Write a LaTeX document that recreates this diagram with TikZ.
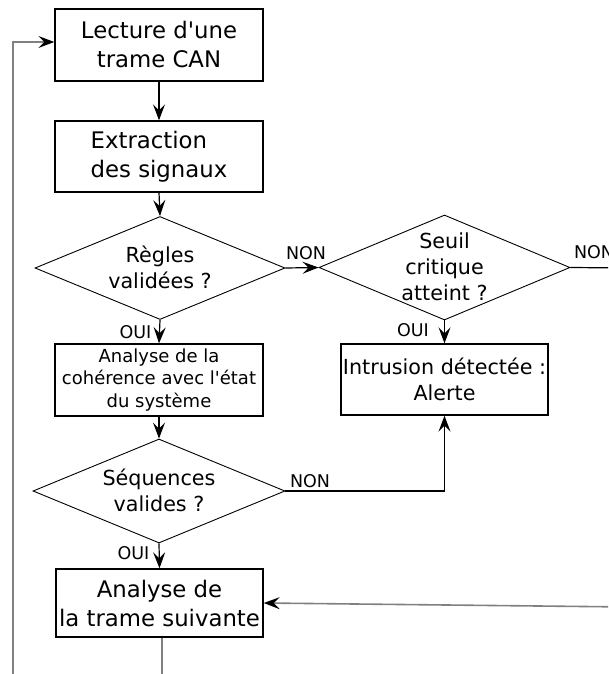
\documentclass[tikz,border=0pt]{standalone}
\usepackage{fontspec}
\setmainfont{DejaVu Sans}[Ligatures=TeXOff]
\usetikzlibrary{shapes.geometric,arrows.meta}
\begin{document}
\begin{tikzpicture}[x=1pt,y=-1pt,
  box/.style={draw, line width=1.4pt, minimum width=208pt, inner sep=0pt, align=center},
  dia/.style={draw, diamond, line width=0.9pt, inner sep=0pt},
  txt/.style={inner sep=0pt, align=center},
  arrowtip/.style={-{Stealth[length=16pt,width=12pt,inset=6pt,color=black]}},
  conn/.style={line width=1.2pt, arrowtip},
  loopline/.style={draw=black!50, line width=1.6pt},
  lab/.style={inner sep=0pt, font=\fontsize{17.5}{19}\selectfont},
  f23/.style={font=\fontsize{22.8}{29}\selectfont},
  f21/.style={font=\fontsize{20.7}{26}\selectfont},
  f18/.style={font=\fontsize{18}{22.5}\selectfont}
]
\useasboundingbox (0,0) rectangle (608,674);
\clip (0,0) rectangle (608,674);

% boxes
\node[box, f23, minimum height=72pt] (b1) at (159,45) {Lecture d'une\\trame CAN};
\node[box, f23, minimum height=71pt, align=left] (b2) at (159,156.5) {Extraction\\des signaux};
\node[box, f18, minimum height=72pt] (b3) at (159,380) {Analyse de la\\cohérence avec l'état\\du système};
\node[box, f21, minimum width=207pt, minimum height=71pt] (b4) at (444.5,379.5) {Intrusion détectée :\\Alerte};
\node[box, f23, minimum width=207pt, minimum height=68pt] (b5) at (159.5,603) {Analyse de\\la trame suivante};

% diamonds
\node[dia, minimum width=250pt, minimum height=103pt] (d1) at (160,268) {};
\node[txt, f21] (d1t) at (160,267) {Règles\\validées ?};
\node[dia, minimum width=251pt, minimum height=105pt] (d2) at (444.5,267.5) {};
\node[txt, f21] (d2t) at (444.5,267) {Seuil\\critique\\atteint ?};
\node[dia, minimum width=252pt, minimum height=104pt] (d3) at (159,491) {};
\node[txt, f21] (d3t) at (159,490) {Séquences\\valides ?};

\coordinate (rout) at (630,268);
\coordinate (rin) at (630,607);
\coordinate (corner) at (444.5,491);
\coordinate (bl) at (13,700);
\coordinate (tl) at (13,42);
\coordinate (bb) at (162,700);

% connectors
\draw[conn] (b1.south) -- (b2.north);
\draw[conn] (b2.south) -- (d1.north);
\draw[conn] (d1.east) node[lab, anchor=south west, yshift=8pt] {NON} -- (d2.west);
\draw[conn] (d1.south) node[lab, anchor=north east, xshift=-8pt, yshift=-5pt] {OUI} -- (b3.north);
\draw[conn] (b3.south) -- (d3.north);
\draw[conn] (d3.south) node[lab, anchor=north east, xshift=-9pt, yshift=-2pt] {OUI} -- (b5.north);
\draw[conn] (d2.south) node[lab, anchor=north east, xshift=-15pt, yshift=-2pt] {OUI} -- (b4.north);
\draw[conn] (d3.east) node[lab, anchor=south west, xshift=4pt, yshift=3pt] {NON} -- (corner) -- (b4.south);
\draw[line width=1.2pt] (d2.east) node[lab, anchor=south west, xshift=3pt, yshift=8pt] {NON} -- (rout);

% loop lines
\draw[loopline, arrowtip] (rin) -- (b5.east);
\draw[loopline] (b5.south -| bb) -- (bb);
\draw[loopline, arrowtip] (bl) -- (tl) -- (tl -| b1.west);
\end{tikzpicture}
\end{document}
